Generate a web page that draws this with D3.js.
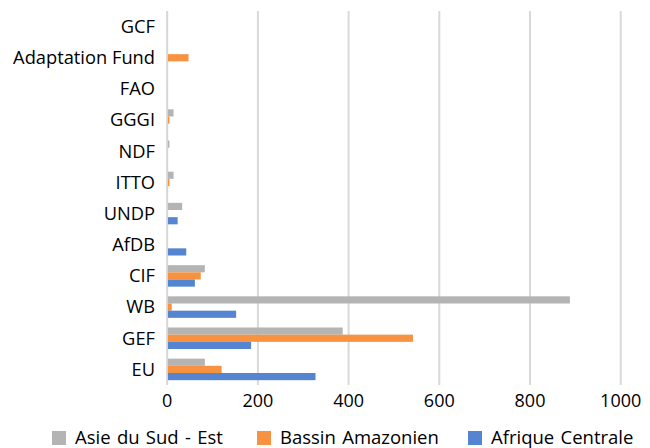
<!DOCTYPE html>
<html><head><meta charset="utf-8">
<script src="https://cdn.jsdelivr.net/npm/d3@7"></script>
<style>body{margin:0;background:#fff}svg{display:block}text{font-family:"Open Sans",sans-serif;fill:#000}</style>
</head><body><svg id="c" width="650" height="448"></svg>
<script>
const categories = ["GCF","Adaptation Fund","FAO","GGGI","NDF","ITTO","UNDP","AfDB","CIF","WB","GEF","EU"];
const seriesNames = ["Asie du Sud - Est","Bassin Amazonien","Afrique Centrale"];
const asie = [0,0,0,14,5,14,33,0,83,888,387,83];
const bassin = [1,47,0,5,0,5,0,0,74,10,542,120];
const afrique = [0,0,1,1,1,1,23,42,61,152,185,327];
const xTicks = [0,200,400,600,800,1000];
const colors = ["#B4B4B4","#F69240","#5585D0"];

const svg = d3.select("#c");
const m = {left:167.2, right:29.3, top:11, bottom:63};
const W = 650, H = 448;
const x = d3.scaleLinear().domain([0,1000]).range([m.left, W-m.right]);
const y = d3.scaleBand().domain(categories).range([m.top, H-m.bottom]).paddingInner(0.31).paddingOuter(0.155);
const ys = d3.scaleBand().domain(seriesNames).range([0, y.bandwidth()]);
const data = [asie, bassin, afrique];

// gridlines
svg.append("g").selectAll("line").data(xTicks).join("line")
  .attr("x1", d=>x(d)).attr("x2", d=>x(d)).attr("y1", m.top).attr("y2", H-m.bottom)
  .attr("stroke", "#D9D9D9").attr("stroke-width", 2);

// bars
const g = svg.append("g");
seriesNames.forEach((s, si) => {
  g.selectAll(null).data(categories).join("rect")
    .attr("x", x(0)).attr("y", c => y(c) + ys(s))
    .attr("width", (c,i) => x(data[si][i]) - x(0))
    .attr("height", ys.bandwidth())
    .attr("fill", colors[si]);
});

// axis line left
svg.append("line").attr("x1", x(0)).attr("x2", x(0)).attr("y1", m.top).attr("y2", H-m.bottom)
  .attr("stroke", "#D9D9D9").attr("stroke-width", 1.5);

// category labels
svg.append("g").selectAll("text").data(categories).join("text")
  .attr("x", 155).attr("y", c => y(c) + y.bandwidth()/2).attr("dy", "0.35em")
  .attr("text-anchor", "end").style("font-size", "18.3px").text(d => d);

// x tick labels
svg.append("g").selectAll("text").data(xTicks).join("text")
  .attr("x", d => x(d)).attr("y", 401).attr("dy", "0.35em")
  .attr("text-anchor", "middle").style("font-size", "18px").text(d => d);

// legend
const legX = [52, 257, 468];
const lg = svg.append("g");
seriesNames.forEach((s, i) => {
  lg.append("rect").attr("x", legX[i]).attr("y", 431).attr("width", 14).attr("height", 14).attr("fill", colors[i]);
  lg.append("text").attr("x", legX[i] + 23).attr("y", 438).attr("dy", "0.35em").style("font-size", "18.5px").style("word-spacing", "1.5px").text(s);
});
</script></body></html>
